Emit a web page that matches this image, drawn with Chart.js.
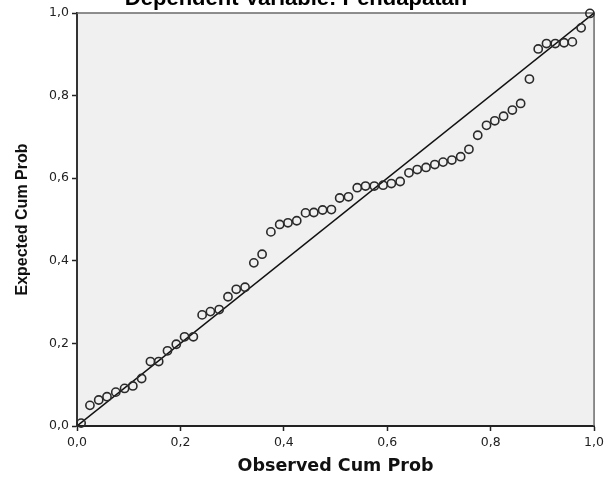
<!DOCTYPE html>
<html>
<head>
<meta charset="utf-8">
<script src="https://cdn.jsdelivr.net/npm/chart.js@4.4.1/dist/chart.umd.min.js"></script>
<style>
  html, body { margin: 0; padding: 0; background: #ffffff; }
  #wrap { width: 608px; height: 478px; position: relative; }
</style>
</head>
<body>
<div id="wrap"><canvas id="c" width="608" height="478"></canvas></div>
<script>
// Observed cumulative probability (x) and expected cumulative probability (y)
const observedCumProb = [
  0.008, 0.025, 0.042, 0.058, 0.075, 0.092, 0.108, 0.125, 0.142, 0.158,
  0.175, 0.192, 0.208, 0.225, 0.242, 0.258, 0.275, 0.292, 0.308, 0.325,
  0.342, 0.358, 0.375, 0.392, 0.408, 0.425, 0.442, 0.458, 0.475, 0.492,
  0.508, 0.525, 0.542, 0.558, 0.575, 0.592, 0.608, 0.625, 0.642, 0.658,
  0.675, 0.692, 0.708, 0.725, 0.742, 0.758, 0.775, 0.792, 0.808, 0.825,
  0.842, 0.858, 0.875, 0.892, 0.908, 0.925, 0.942, 0.958, 0.975, 0.992
];
const expectedCumProb = [
  0.007, 0.050, 0.063, 0.071, 0.082, 0.091, 0.097, 0.115, 0.156, 0.156,
  0.182, 0.198, 0.216, 0.216, 0.269, 0.277, 0.282, 0.313, 0.331, 0.336,
  0.395, 0.416, 0.470, 0.488, 0.492, 0.497, 0.516, 0.517, 0.523, 0.524,
  0.552, 0.555, 0.577, 0.581, 0.581, 0.583, 0.587, 0.592, 0.613, 0.621,
  0.626, 0.633, 0.639, 0.644, 0.652, 0.670, 0.704, 0.728, 0.739, 0.750,
  0.765, 0.781, 0.840, 0.913, 0.926, 0.926, 0.928, 0.930, 0.964, 0.999
];
const referenceLineX = [0, 1];
const referenceLineY = [0, 1];
const xTickLabels = ['0,0', '0,2', '0,4', '0,6', '0,8', '1,0'];
const yTickLabels = ['0,0', '0,2', '0,4', '0,6', '0,8', '1,0'];
const titleText = 'Dependent Variable: Pendapatan';
const xTitle = 'Observed Cum Prob';
const yTitle = 'Expected Cum Prob';

const points = observedCumProb.map((x, i) => ({ x: x, y: expectedCumProb[i] }));
const linePts = referenceLineX.map((x, i) => ({ x: x, y: referenceLineY[i] }));

const framePlugin = {
  id: 'frame',
  beforeDraw(chart) {
    const { ctx, chartArea: a } = chart;
    ctx.save();
    ctx.fillStyle = '#f0f0f0';
    ctx.fillRect(a.left, a.top, a.right - a.left, a.bottom - a.top);
    ctx.restore();
  },
  beforeDatasetsDraw(chart) {
    const { ctx, chartArea: a } = chart;
    ctx.save();
    ctx.strokeStyle = '#6a6a6a';
    ctx.lineWidth = 1.5;
    ctx.beginPath();
    ctx.moveTo(a.left, a.top);
    ctx.lineTo(a.right, a.top);
    ctx.lineTo(a.right, a.bottom);
    ctx.stroke();
    ctx.restore();
  },
  afterDraw(chart) {
    const { ctx } = chart;
    ctx.save();
    ctx.fillStyle = '#000';
    ctx.font = 'bold 22px "Liberation Sans", Arial, sans-serif';
    ctx.textAlign = 'center';
    ctx.textBaseline = 'alphabetic';
    ctx.fillText(titleText, 296, 5);
    ctx.restore();
  }
};

new Chart(document.getElementById('c'), {
  type: 'scatter',
  data: {
    datasets: [
      {
        type: 'line',
        data: linePts,
        borderColor: '#111',
        borderWidth: 1.5,
        pointRadius: 0,
        fill: false,
        order: 2
      },
      {
        data: points,
        pointRadius: 4.1,
        pointBorderWidth: 1.6,
        pointBorderColor: '#2a2a2a',
        pointBackgroundColor: 'rgba(0,0,0,0)',
        clip: false,
        order: 1
      }
    ]
  },
  options: {
    responsive: false,
    animation: false,
    events: [],
    layout: { padding: { left: 0, right: 9, top: 13, bottom: 0 } },
    plugins: { legend: { display: false }, tooltip: { enabled: false } },
    scales: {
      x: {
        type: 'linear',
        min: 0, max: 1,
        afterFit(s) { s.height = 52; },
        ticks: {
          stepSize: 0.2,
          color: '#222',
          padding: 4,
          font: { family: '"DejaVu Sans", sans-serif', size: 12.5 },
          callback: (v) => xTickLabels[Math.round(v * 5)]
        },
        grid: { drawOnChartArea: false, drawTicks: true, tickLength: 5, color: '#222', tickWidth: 1.5 },
        border: { display: true, color: '#222', width: 2 },
        title: {
          display: true, text: xTitle, color: '#111',
          font: { family: '"DejaVu Sans", sans-serif', size: 17.5, weight: 'bold' },
          padding: { top: 0, bottom: 1 }
        }
      },
      y: {
        type: 'linear',
        min: 0, max: 1,
        afterFit(s) { s.width = 77; },
        ticks: {
          stepSize: 0.2,
          color: '#222',
          padding: 3,
          font: { family: '"DejaVu Sans", sans-serif', size: 12.5 },
          callback: (v) => yTickLabels[Math.round(v * 5)]
        },
        grid: { drawOnChartArea: false, drawTicks: true, tickLength: 5, color: '#222', tickWidth: 1.5 },
        border: { display: true, color: '#333', width: 2 },
        title: {
          display: true, text: yTitle, color: '#111',
          font: { family: '"Liberation Sans", Arial, sans-serif', size: 16, weight: 'bold' },
          padding: { top: 13, bottom: 0 }
        }
      }
    }
  },
  plugins: [framePlugin]
});
</script>
</body>
</html>
